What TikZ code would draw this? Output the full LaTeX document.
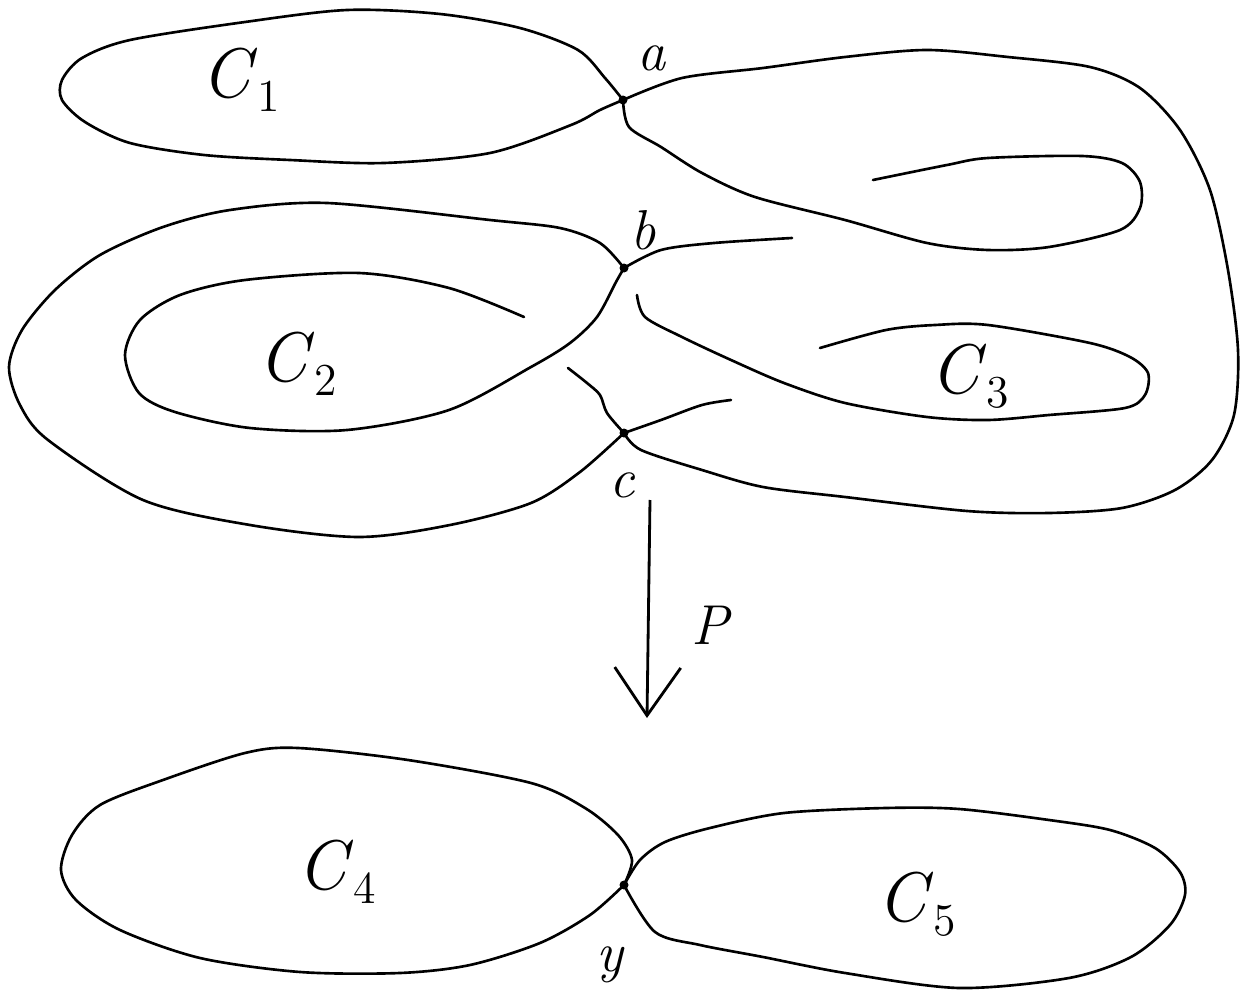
\documentclass[tikz,border=0pt]{standalone}
\usepackage{fontspec}
\usepackage{tikz}
\usetikzlibrary{arrows.meta}
\newcommand{\crv}[1]{\textit{C}\raisebox{-0.45ex}{\fontsize{13}{14}\selectfont #1}}

\begin{document}
\begin{tikzpicture}[
    x=0.1mm, y=-0.1mm,
    curve/.style={line width=0.75pt, line join=round, line cap=round},
    knot/.style={fill=black},
    curvename/.style={font=\fontsize{20}{24}\selectfont},
    ptlabel/.style={font=\fontsize{16}{19}\selectfont\itshape},
    maparrow/.style={line width=0.8pt,-{Straight Barb[length=4.8mm,width=6.6mm,line width=0.8pt]}}
  ]
    \useasboundingbox (0,0) rectangle (1242,995);

    % crossing points
    \coordinate (a) at (623,100);
    \coordinate (b) at (624,268);
    \coordinate (c) at (624,433);
    \coordinate (y) at (624,885);
    \coordinate (pTop) at (650,500);
    \coordinate (pBot) at (647,718);

    % C1
    \draw[curve] plot[smooth] coordinates {(a) (600,110) (571,125) (490,153) (384,163) (290,160) (204,155)
      (130,143) (85,122) (62,100) (62,80) (82,58) (130,40) (245,22) (347,10) (440,14) (520,28)
      (578,50) (605,78) (a)};

    % C2, outer and inner turn
    \draw[curve] plot[smooth] coordinates {(b) (600,243) (560,228) (490,220) (327,203) (230,210)
      (163,227) (100,255) (55,290) (22,330) (9,367) (20,405) (48,440) (143,500) (250,525) (359,537)
      (450,525) (531,503) (580,472) (c)};
    \draw[curve] plot[smooth] coordinates {(b) (616,282) (597,317) (570,343) (531,367) (449,410) (347,430)
      (250,428) (175,412) (139,393) (125,355) (140,320) (180,295) (245,280) (359,273) (449,288) (524,317)};
    \draw[curve] plot[smooth] coordinates {(568,368) (587,383) (600,395) (607,413) (c)};

    % C3
    \draw[curve] plot[smooth] coordinates {(a) (682,78) (763,68) (845,57) (927,50) (1008,57) (1090,67)
      (1140,88) (1180,130) (1210,190) (1228,270) (1238,350) (1234,415) (1212,460) (1175,490)
      (1122,508) (1049,513) (967,511) (845,497) (763,487) (702,470) (641,450) (c)};
    \draw[curve] plot[smooth] coordinates {(a) (629,127) (661,147) (702,173) (755,197) (845,220) (927,243)
      (988,250) (1049,247) (1120,230) (1140,208) (1140,182) (1122,163) (1082,156) (988,158)
      (947,165) (873,180)};
    \draw[curve] plot[smooth] coordinates {(b) (661,250) (714,243) (792,238)};
    \draw[curve] plot[smooth] coordinates {(637,295) (645,317) (682,337) (731,360) (784,383) (845,403)
      (927,417) (988,420) (1049,415) (1125,408) (1145,395) (1148,373) (1130,357) (1090,343)
      (988,325) (935,325) (886,330) (820,348)};
    \draw[curve] plot[smooth] coordinates {(c) (661,420) (702,405) (731,400)};

    % C4 and C5
    \draw[curve] plot[smooth] coordinates {(y) (632,860) (618,835) (585,808) (531,783) (408,760) (298,748)
      (245,753) (163,780) (100,805) (72,835) (61,870) (76,900) (120,930) (200,958) (300,972)
      (400,973) (470,965) (540,943) (590,915) (y)};
    \draw[curve] plot[smooth] coordinates {(y) (640,860) (665,842) (710,828) (784,813) (886,808) (959,809)
      (1049,820) (1110,830) (1155,848) (1180,872) (1185,895) (1170,925) (1131,957) (1069,978)
      (959,988) (845,973) (763,957) (700,945) (655,932) (y)};

    \foreach \k in {a,b,c,y}
      \fill[knot] (\k) circle[radius=0.45mm];

    % the map
    \draw[maparrow] (pTop) -- (pBot);

    \node[curvename] (nameC1) at (241,80) {\crv{1}};
    \node[curvename] (nameC2) at (298,364) {\crv{2}};
    \node[curvename] (nameC3) at (970,376) {\crv{3}};
    \node[curvename] (nameC4) at (337,872) {\crv{4}};
    \node[curvename] (nameC5) at (917,904) {\crv{5}};
    \node[ptlabel] (lblA) at (652,58) {a};
    \node[ptlabel] (lblB) at (643,230) {b};
    \node[ptlabel] (lblC) at (622,485) {c};
    \node[ptlabel] (lblY) at (610,965) {y};
    \node[ptlabel] (lblP) at (710,625) {P};
\end{tikzpicture}
\end{document}
